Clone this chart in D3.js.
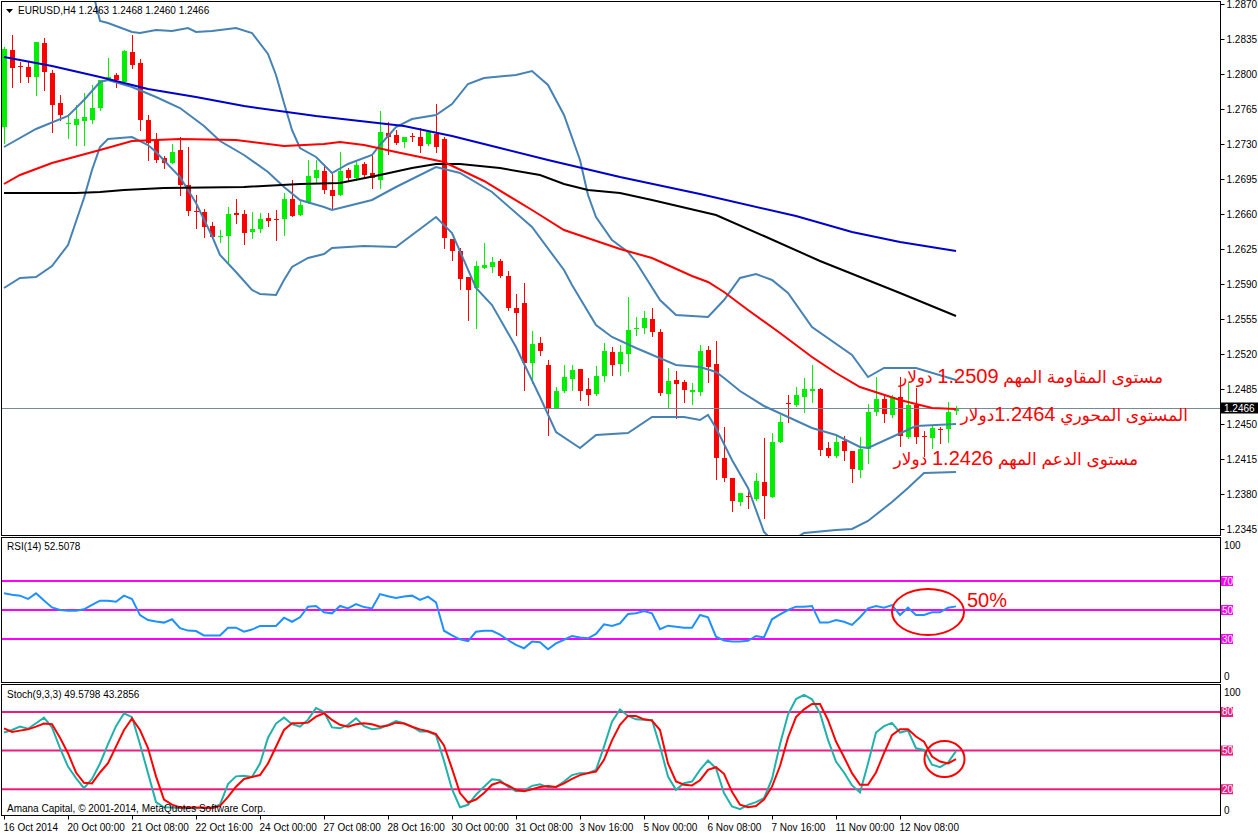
<!DOCTYPE html>
<html>
<head>
<meta charset="utf-8">
<script src="https://cdn.jsdelivr.net/npm/d3@7"></script>
<style>
body { margin: 0; background: #fff; }
svg { display: block; }
.lbl { font-family: "Liberation Sans", Arial, sans-serif; font-size: 10px; fill: #000; }
.note { font-family: "Liberation Sans", "DejaVu Sans", Arial, sans-serif; font-size: 20px; fill: #ff0000; }
.ar { font-size: 17px; }
</style>
</head>
<body>
<svg id="chart" width="1258" height="835"></svg>
<script>
// EURUSD H4 candles, one entry per bar (bar 0 = 16 Oct 2014)
var opens = [1.2747,1.2824,1.2808,1.2807,1.2797,1.2831,1.2801,1.2771,1.2750,1.2749,
  1.2753,1.2754,1.2766,1.2794,1.2799,1.2792,1.2822,1.2811,1.2754,1.2734,
  1.2716,1.2711,1.2724,1.2689,1.2663,1.2662,1.2648,1.2637,1.2638,1.2661,
  1.2660,1.2642,1.2645,1.2656,1.2655,1.2655,1.2675,1.2659,1.2672,1.2696,
  1.2703,1.2684,1.2679,1.2704,1.2696,1.2710,1.2701,1.2694,1.2741,1.2739,
  1.2732,1.2738,1.2737,1.2730,1.2740,1.2735,1.2635,1.2623,1.2597,1.2586,
  1.2606,1.2607,1.2613,1.2598,1.2566,1.2571,1.2511,1.2531,1.2509,1.2466,
  1.2483,1.2495,1.2505,1.2485,1.2480,1.2498,1.2522,1.2510,1.2520,1.2545,
  1.2546,1.2555,1.2542,1.2480,1.2494,1.2492,1.2482,1.2482,1.2524,1.2510,
  1.2416,1.2396,1.2372,1.2378,1.2375,1.2392,1.2377,1.2432,1.2471,1.2469,
  1.2477,1.2483,1.2485,1.2426,1.2418,1.2433,1.2423,1.2404,1.2425,1.2462,
  1.2475,1.2459,1.2477,1.2437,1.2469,1.2438,1.2436,1.2445,1.2445,1.2463];
var highs = [1.2827,1.2839,1.2812,1.2812,1.2832,1.2836,1.2804,1.2779,1.2760,1.2769,
  1.2781,1.2789,1.2794,1.2816,1.2801,1.2824,1.2839,1.2815,1.2759,1.2741,
  1.2718,1.2730,1.2737,1.2727,1.2679,1.2665,1.2652,1.2644,1.2667,1.2675,
  1.2664,1.2662,1.2661,1.2661,1.2664,1.2681,1.2694,1.2674,1.2714,1.2714,
  1.2708,1.2700,1.2722,1.2706,1.2713,1.2712,1.2719,1.2763,1.2752,1.2744,
  1.2737,1.2741,1.2746,1.2742,1.2770,1.2737,1.2635,1.2626,1.2597,1.2613,
  1.2631,1.2617,1.2615,1.2603,1.2580,1.2591,1.2543,1.2537,1.2514,1.2487,
  1.2509,1.2509,1.2505,1.2496,1.2508,1.2531,1.2527,1.2529,1.2577,1.2557,
  1.2563,1.2566,1.2545,1.2506,1.2503,1.2494,1.2491,1.2529,1.2528,1.2533,
  1.2447,1.2396,1.2381,1.2382,1.2401,1.2436,1.2441,1.2459,1.2479,1.2487,
  1.2496,1.2509,1.2486,1.2432,1.2439,1.2438,1.2423,1.2437,1.2470,1.2497,
  1.2478,1.2479,1.2497,1.2491,1.2486,1.2443,1.2449,1.2447,1.2472,1.2468];
var lows = [1.2731,1.2787,1.2792,1.2792,1.2779,1.2784,1.2742,1.2754,1.2736,1.2729,
  1.2729,1.2751,1.2764,1.2794,1.2787,1.2791,1.2806,1.2744,1.2714,1.2712,
  1.2706,1.2711,1.2679,1.2659,1.2646,1.2637,1.2636,1.2632,1.2612,1.2651,
  1.2630,1.2636,1.2642,1.2648,1.2634,1.2639,1.2658,1.2659,1.2671,1.2691,
  1.2681,1.2665,1.2679,1.2694,1.2694,1.2697,1.2686,1.2686,1.2720,1.2730,
  1.2727,1.2733,1.2722,1.2729,1.2722,1.2626,1.2614,1.2585,1.2554,1.2546,
  1.2606,1.2602,1.2597,1.2564,1.2539,1.2484,1.2491,1.2519,1.2439,1.2466,
  1.2482,1.2484,1.2474,1.2469,1.2479,1.2493,1.2499,1.2499,1.2503,1.2539,
  1.2541,1.2538,1.2479,1.2466,1.2456,1.2472,1.2470,1.2479,1.2492,1.2395,
  1.2393,1.2363,1.2369,1.2366,1.2374,1.2356,1.2377,1.2432,1.2452,1.2468,
  1.2462,1.2472,1.2419,1.2417,1.2417,1.2414,1.2392,1.2397,1.2411,1.2459,
  1.2452,1.2457,1.2428,1.2436,1.2431,1.2418,1.2426,1.2431,1.2432,1.2460];
var closes = [1.2825,1.2806,1.2807,1.2797,1.2832,1.2802,1.2769,1.2759,1.2751,1.2755,
  1.2757,1.2766,1.2794,1.2797,1.2794,1.2823,1.2809,1.2754,1.2731,1.2714,
  1.2711,1.2722,1.2689,1.2663,1.2662,1.2647,1.2637,1.2638,1.2660,1.2659,
  1.2641,1.2645,1.2655,1.2653,1.2654,1.2675,1.2658,1.2669,1.2698,1.2704,
  1.2684,1.2678,1.2703,1.2696,1.2709,1.2699,1.2696,1.2742,1.2737,1.2731,
  1.2737,1.2737,1.2728,1.2742,1.2727,1.2636,1.2623,1.2595,1.2584,1.2608,
  1.2609,1.2612,1.2598,1.2566,1.2561,1.2511,1.2530,1.2523,1.2466,1.2483,
  1.2497,1.2504,1.2483,1.2479,1.2498,1.2523,1.2509,1.2522,1.2544,1.2546,
  1.2556,1.2542,1.2481,1.2493,1.2490,1.2484,1.2484,1.2523,1.2507,1.2416,
  1.2396,1.2373,1.2381,1.2377,1.2393,1.2378,1.2432,1.2452,1.2470,1.2479,
  1.2485,1.2485,1.2424,1.2418,1.2432,1.2423,1.2405,1.2425,1.2462,1.2475,
  1.2460,1.2477,1.2438,1.2469,1.2437,1.2437,1.2446,1.2444,1.2462,1.2466];

// moving averages and Bollinger bands, read as [bar, price]
var maRed = [[0,1.2690],[2,1.2699],[6,1.2711],[12,1.2724],[16,1.2733],[22,1.2735],[29,1.2734],
  [35,1.2728],[40,1.2730],[42,1.2732],[45,1.2729],[49,1.2722],[55,1.2712],[60,1.2693],[66,1.2664],
  [70,1.2644],[77,1.2625],[81,1.2616],[86,1.2598],[88,1.2592],[90,1.2582],[93,1.2564],[97,1.2541],
  [101,1.2517],[104,1.2501],[107,1.2487],[112,1.2474],[116,1.2466],[119,1.2465]];
var maBlack = [[0,1.2681],[9,1.2681],[12,1.2682],[15,1.2684],[20,1.2686],[30,1.2687],[37,1.2690],
  [42,1.2691],[47,1.2699],[51,1.2706],[54,1.2710],[57,1.2710],[62,1.2706],[67,1.2699],[70,1.2690],
  [73,1.2684],[77,1.2681],[81,1.2674],[89,1.2659],[95,1.2638],[102,1.2613],[112,1.2581],[119,1.2558]];
var maBlue = [[0,1.2817],[6,1.2808],[12,1.2797],[18,1.2785],[24,1.2777],[30,1.2768],[39,1.2758],
  [50,1.2748],[56,1.2738],[62,1.2726],[68,1.2714],[77,1.2697],[87,1.2680],[99,1.2658],[106,1.2642],
  [112,1.2632],[119,1.2623]];
var bbUpper = [[0,1.2880],[4,1.2895],[8,1.2890],[11,1.2885],[12,1.2853],[13,1.2851],[16,1.2842],
  [17,1.2841],[19,1.2844],[21,1.2843],[23,1.2846],[24,1.2842],[26,1.2843],[29,1.2846],[31,1.2841],
  [33,1.2820],[34,1.2799],[35,1.2771],[36,1.2744],[37,1.2726],[39,1.2717],[41,1.2701],[43,1.2710],
  [46,1.2719],[47,1.2729],[49,1.2747],[51,1.2755],[54,1.2759],[56,1.2770],[58,1.2790],[60,1.2796],
  [64,1.2799],[66,1.2803],[68,1.2789],[70,1.2759],[72,1.2714],[73,1.2679],[74,1.2657],[76,1.2634],
  [78,1.2622],[79,1.2612],[82,1.2574],[84,1.2559],[88,1.2557],[90,1.2574],[92,1.2596],[94,1.2600],
  [96,1.2594],[98,1.2581],[101,1.2547],[106,1.2519],[108,1.2497],[110,1.2506],[114,1.2506],[119,1.2494]];
var bbMiddle = [[0,1.2727],[4,1.2745],[8,1.2758],[10,1.2774],[12,1.2792],[13,1.2794],[16,1.2787],
  [19,1.2777],[22,1.2766],[25,1.2748],[27,1.2733],[30,1.2719],[33,1.2702],[35,1.2687],[37,1.2674],
  [40,1.2667],[41,1.2664],[43,1.2668],[46,1.2674],[49,1.2687],[54,1.2707],[57,1.2701],[61,1.2682],
  [66,1.2647],[70,1.2604],[71,1.2589],[74,1.2549],[76,1.2537],[79,1.2526],[84,1.2509],[87,1.2507],
  [89,1.2502],[90,1.2496],[92,1.2483],[95,1.2468],[98,1.2457],[101,1.2446],[104,1.2439],[107,1.2427],
  [108,1.2426],[111,1.2437],[114,1.2448],[119,1.2450]];
var bbLower = [[0,1.2586],[2,1.2596],[4,1.2597],[6,1.2608],[8,1.2629],[10,1.2676],[11,1.2704],
  [12,1.2727],[13,1.2735],[16,1.2737],[18,1.2729],[19,1.2722],[22,1.2697],[24,1.2671],[26,1.2638],
  [27,1.2619],[29,1.2602],[31,1.2584],[32,1.2580],[34,1.2579],[35,1.2594],[36,1.2607],[38,1.2616],
  [40,1.2620],[41,1.2626],[45,1.2628],[49,1.2627],[54,1.2657],[56,1.2641],[59,1.2586],[61,1.2569],
  [64,1.2527],[67,1.2477],[69,1.2442],[72,1.2426],[74,1.2439],[78,1.2441],[81,1.2457],[85,1.2457],
  [87,1.2454],[88,1.2459],[89,1.2446],[91,1.2414],[93,1.2386],[95,1.2342],[96,1.2334],[99,1.2336],
  [100,1.2341],[104,1.2344],[106,1.2345],[108,1.2353],[111,1.2372],[113,1.2386],[115,1.2401],[119,1.2402]];

// RSI(14), one value per bar
var rsi = [61.5,60.5,59.9,57.6,61.5,56.5,51.8,50.0,49.5,49.5,
  50.5,53.5,56.4,56.4,55.7,59.9,57.6,46.5,43.1,42.0,
  41.3,43.6,37.5,35.8,35.5,32.5,32.5,32.5,37.8,37.8,
  35.0,36.5,39.0,39.0,39.0,44.7,41.9,45.0,52.3,52.8,
  48.5,47.7,52.8,51.1,54.1,52.0,51.1,61.0,59.5,58.3,
  59.3,59.9,56.9,59.2,55.3,35.7,32.5,29.8,28.6,35.0,
  35.7,35.7,33.0,29.3,26.0,23.6,28.2,27.8,22.9,27.0,
  29.5,32.1,31.0,30.5,33.5,40.1,39.0,40.8,47.2,47.7,
  49.3,47.7,36.7,39.2,38.5,37.8,37.8,46.6,45.0,31.6,
  29.0,28.2,28.2,28.8,32.1,31.1,43.6,47.0,50.0,52.3,
  52.3,52.8,41.3,41.3,43.1,41.9,39.7,45.0,51.1,52.8,
  51.6,53.4,46.6,51.6,46.6,46.6,48.4,48.4,51.6,52.5];

// Stochastic(9,3,3) main and signal
var stochK = [64,66,68.6,67,71.2,75.6,68,52,37.6,28.6,
  20.8,28,40,55,69,79,76,55,32.5,10,
  6,5.8,5.5,5.3,5.3,5.5,5.8,8,24,30,
  30.4,29.5,40,60,71,75.6,70.5,68.6,74,83,
  80,68,67.3,70,75.1,69,66.6,67.3,69.9,73,
  71.2,68.6,64.8,64.8,62,42,20,6,7.9,15.7,
  22,27.8,27,22,18.5,19,22.6,23.9,21.5,21.6,
  26,31,32.5,32.5,35,53.1,72.5,82,76.9,74.3,
  74,73.8,53.1,29.9,19.5,24.7,26,35,42.3,36.3,
  17,6.6,4.5,7.9,10,13,28,55,78,90,
  93.2,89.8,79,58.3,41.5,33,23,17.5,40,64,
  69,71.5,64,65.5,51.8,50.5,39,37.1,40.7,49.6];
var stochD = [67.3,64.5,65.5,66.5,68.6,71,70.5,60,48,33,
  25,24.5,33,40.2,53.1,66,75,66,52,30,
  12,8,5.8,5.8,5.8,5.8,5.3,7,14,22,
  28,29.5,31,40,53,66,71.2,71.2,71.7,76.4,
  79,73.8,70,68.6,70.4,71.2,70.4,68.6,69.4,71.7,
  71,68.5,66.5,65,62.8,54,36,17,9.7,12,
  17,23.5,25.5,23,19.5,18.5,20,21.8,22.6,21.8,
  24.5,28,31,32.5,33.7,42.8,58,70,76.9,76.9,
  74.3,73.3,66,40,26,23.5,23,27,35,37.1,
  32,18,8,6,7,12,22,38,60,76,
  82,86.2,86.2,73.8,57,45,32.5,23.4,23.4,33,
  48,62,66.6,66.6,60.9,57,45.4,41.5,40,43.3];

var priceTicks = [1.2345,1.2380,1.2415,1.2450,1.2485,1.2520,1.2555,1.2590,
  1.2625,1.2660,1.2695,1.2730,1.2765,1.2800,1.2835,1.2870];
var timeTickBars = [0,8,16,24,32,40,48,56,64,72,80,88,96,104,112];
var timeTickText = ["16 Oct 2014","20 Oct 00:00","21 Oct 08:00","22 Oct 16:00","24 Oct 00:00",
  "27 Oct 08:00","28 Oct 16:00","30 Oct 00:00","31 Oct 08:00","3 Nov 16:00","5 Nov 00:00",
  "6 Nov 08:00","7 Nov 16:00","11 Nov 00:00","12 Nov 08:00"];
var rsiLevels = [70,50,30];
var stochLevels = [80,50,20];
var lastPrice = 1.2466;

// price notes: [arabic before number, number, arabic after number]
var notes = [["مستوى المقاومة المهم ", "1.2509", " دولار"],
             ["المستوى المحوري ", "1.2464", "دولار"],
             ["مستوى الدعم المهم ", "1.2426", " دولار"]];

var svg = d3.select("#chart");

var x = d3.scaleLinear().domain([0, 119]).range([4, 956]);
var y = d3.scaleLinear().domain([1.2345, 1.2870]).range([529, 4]);
var yR = d3.scaleLinear().domain([0, 100]).range([682.5, 537.5]);
var yS = d3.scaleLinear().domain([0, 100]).range([815, 686.2]);

var defs = svg.append("defs");
defs.append("clipPath").attr("id", "cm").append("rect").attr("x", 2).attr("y", 2).attr("width", 1218).attr("height", 533);
defs.append("clipPath").attr("id", "cr").append("rect").attr("x", 2).attr("y", 538).attr("width", 1218).attr("height", 144);
defs.append("clipPath").attr("id", "cs").append("rect").attr("x", 2).attr("y", 685).attr("width", 1218).attr("height", 130);

// main pane: candles
var gm = svg.append("g").attr("clip-path", "url(#cm)");
var bars = d3.range(opens.length);
var up = "#00ee00", dn = "#ff0000";
function col(i) { return closes[i] >= opens[i] ? up : dn; }

gm.selectAll("line.wick").data(bars).join("line")
  .attr("x1", function(i) { return x(i) + 0.5; })
  .attr("x2", function(i) { return x(i) + 0.5; })
  .attr("y1", function(i) { return Math.round(y(highs[i])); })
  .attr("y2", function(i) { return Math.round(y(lows[i])) + 1; })
  .attr("stroke", col).attr("stroke-width", 1);

gm.selectAll("rect.body").data(bars).join("rect")
  .attr("x", function(i) { return x(i) - 2; })
  .attr("width", 5)
  .attr("y", function(i) { return Math.round(y(Math.max(opens[i], closes[i]))); })
  .attr("height", function(i) {
    return Math.max(1, Math.round(y(Math.min(opens[i], closes[i]))) - Math.round(y(Math.max(opens[i], closes[i]))));
  })
  .attr("fill", col);

// bid line
gm.append("line").attr("x1", 2).attr("x2", 1220)
  .attr("y1", Math.round(y(lastPrice)) + 0.5).attr("y2", Math.round(y(lastPrice)) + 0.5)
  .attr("stroke", "#778899").attr("stroke-width", 1);

var pl = d3.line().x(function(d) { return x(d[0]); }).y(function(d) { return y(d[1]); });
[[bbUpper, "#4682b4"], [bbMiddle, "#4682b4"], [bbLower, "#4682b4"],
 [maBlue, "#0000cd"], [maBlack, "#000000"], [maRed, "#ff0000"]].forEach(function(s) {
  gm.append("path").datum(s[0]).attr("d", pl).attr("fill", "none")
    .attr("stroke", s[1]).attr("stroke-width", 2);
});

// RSI pane
var gr = svg.append("g").attr("clip-path", "url(#cr)");
rsiLevels.forEach(function(v) {
  gr.append("line").attr("x1", 2).attr("x2", 1220).attr("y1", yR(v)).attr("y2", yR(v))
    .attr("stroke", "#ff00ff").attr("stroke-width", 2);
});
gr.append("path").datum(rsi)
  .attr("d", d3.line().x(function(d, i) { return x(i); }).y(function(d) { return yR(d); }))
  .attr("fill", "none").attr("stroke", "#1e90ff").attr("stroke-width", 2);

// Stochastic pane
var gs = svg.append("g").attr("clip-path", "url(#cs)");
stochLevels.forEach(function(v) {
  gs.append("line").attr("x1", 2).attr("x2", 1220).attr("y1", yS(v)).attr("y2", yS(v))
    .attr("stroke", "#f01a7e").attr("stroke-width", 2);
});
var sl = d3.line().x(function(d, i) { return x(i); }).y(function(d) { return yS(d); });
gs.append("path").datum(stochK).attr("d", sl).attr("fill", "none").attr("stroke", "#20b2aa").attr("stroke-width", 2);
gs.append("path").datum(stochD).attr("d", sl).attr("fill", "none").attr("stroke", "#ff0000").attr("stroke-width", 2);

// pane frames
[[1.5, 534], [537.5, 145], [684.5, 131]].forEach(function(p) {
  svg.append("rect").attr("x", 1.5).attr("y", p[0]).attr("width", 1219).attr("height", p[1])
    .attr("fill", "none").attr("stroke", "#000").attr("stroke-width", 1);
});

// price axis
var pa = svg.append("g").attr("transform", "translate(1220.5,0)")
  .call(d3.axisRight(y).tickValues(priceTicks).tickSize(4).tickPadding(2).tickFormat(d3.format(".4f")));
pa.select(".domain").remove();
pa.selectAll("text").attr("class", "lbl").attr("font-family", null).attr("font-size", null);

// last price box
svg.append("rect").attr("x", 1221).attr("y", y(lastPrice) - 5.5).attr("width", 37).attr("height", 11).attr("fill", "#000");
svg.append("text").attr("class", "lbl").attr("x", 1224).attr("y", y(lastPrice) + 3.5).style("fill", "#fff").text(d3.format(".4f")(lastPrice));

// RSI and stochastic scales
function sideLabel(t, yy) {
  svg.append("text").attr("class", "lbl").attr("x", 1224).attr("y", yy + 3.5).text(t);
}
function levelBox(v, yy, c) {
  svg.append("rect").attr("x", 1221).attr("y", yy - 5).attr("width", 12).attr("height", 10).attr("fill", c);
  svg.append("text").attr("class", "lbl").attr("x", 1222).attr("y", yy + 3.5).style("fill", "#fff").text(v);
}
sideLabel("100", 545); sideLabel("0", 676);
rsiLevels.forEach(function(v) { levelBox(v, yR(v), "#ff00ff"); });
sideLabel("100", 692); sideLabel("0", 810);
stochLevels.forEach(function(v) { levelBox(v, yS(v), "#f01a7e"); });

// time axis
var ta = svg.append("g").attr("transform", "translate(0,815.5)")
  .call(d3.axisBottom(x).tickValues(timeTickBars).tickSize(4).tickPadding(4)
    .tickFormat(function(d, i) { return timeTickText[i]; }));
ta.select(".domain").remove();
ta.selectAll("text").attr("class", "lbl").attr("font-family", null).attr("font-size", null)
  .attr("text-anchor", "start").attr("dx", -1);

// pane titles
svg.append("path").attr("d", "M6,9 L13,9 L9.5,13 Z").attr("fill", "#000");
svg.append("text").attr("class", "lbl").attr("x", 18).attr("y", 14).text("EURUSD,H4  1.2463 1.2468 1.2460 1.2466");
svg.append("text").attr("class", "lbl").attr("x", 7).attr("y", 550).text("RSI(14) 52.5078");
svg.append("text").attr("class", "lbl").attr("x", 7).attr("y", 698).text("Stoch(9,3,3) 49.5798 43.2856");
svg.append("text").attr("class", "lbl").attr("x", 7).attr("y", 812).text("Amana Capital, \u00a9 2001-2014, MetaQuotes Software Corp.");

// annotations (right edge, baseline)
var notePos = [[1163, 383], [1188, 421], [1138, 465]];
notes.forEach(function(n, k) {
  var t = svg.append("text").attr("class", "note").attr("x", notePos[k][0]).attr("y", notePos[k][1])
    .attr("text-anchor", "end");
  t.append("tspan").attr("class", "ar").text(n[0]);
  t.append("tspan").text(n[1]);
  t.append("tspan").attr("class", "ar").text(n[2]);
});
svg.append("text").attr("class", "note").attr("x", 967).attr("y", 607).text("50%");
svg.append("ellipse").attr("cx", 928).attr("cy", 612).attr("rx", 36).attr("ry", 23)
  .attr("fill", "none").attr("stroke", "#ff0000").attr("stroke-width", 2);
svg.append("ellipse").attr("cx", 944.5).attr("cy", 759).attr("rx", 20).attr("ry", 18)
  .attr("fill", "none").attr("stroke", "#ff0000").attr("stroke-width", 2);
</script>
</body>
</html>
